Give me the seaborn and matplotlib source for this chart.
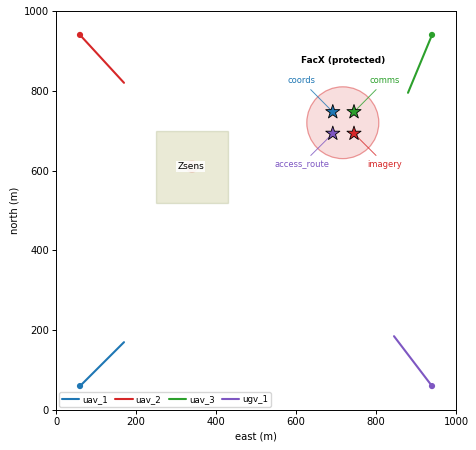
import pandas as pd
import seaborn as sns
import matplotlib
matplotlib.use('Agg')
import matplotlib.pyplot as plt
from matplotlib.patches import Circle, Rectangle

# tracks: start and end point of each vehicle
vehicles = ['uav_1', 'uav_2', 'uav_3', 'ugv_1']
colors = ['#1f77b4', '#d62728', '#2ca02c', '#7e57c2']
start_east = [60, 60, 940, 940]
start_north = [60, 940, 940, 60]
end_east = [170, 170, 880, 845]
end_north = [170, 820, 795, 185]

# facility and sensor zone
fac_east, fac_north, fac_radius = 717, 720, 90
zone_east, zone_north, zone_width, zone_height = 250, 520, 180, 180
zone_center = (340, 610)

# assets inside the facility
assets = ['coords', 'comms', 'access_route', 'imagery']
asset_east = [692, 745, 692, 745]
asset_north = [747, 747, 693, 693]
asset_colors = ['#1f77b4', '#2ca02c', '#7e57c2', '#d62728']
label_east = [615, 822, 615, 822]
label_north = [825, 825, 616, 616]

palette = dict(zip(vehicles, colors))

df = pd.DataFrame({
    'vehicle': vehicles * 2,
    'east': start_east + end_east,
    'north': start_north + end_north,
})
df_start = pd.DataFrame({'vehicle': vehicles, 'east': start_east, 'north': start_north})
df_assets = pd.DataFrame({'asset': assets, 'east': asset_east, 'north': asset_north})

sns.set_theme(style='ticks')
plt.rcParams['font.family'] = ['DejaVu Sans']
plt.rcParams['text.color'] = 'black'
plt.rcParams['axes.labelcolor'] = 'black'
plt.rcParams['xtick.color'] = 'black'
plt.rcParams['ytick.color'] = 'black'

fig = plt.figure(figsize=(4.76, 4.5), dpi=100)
ax = fig.add_axes([56 / 476, 1 - 410 / 450, 400 / 476, 399 / 450])

ax.add_patch(Rectangle((zone_east, zone_north), zone_width, zone_height,
                       facecolor='#8c8c20', edgecolor='#6b7a30', alpha=0.18, lw=1))
ax.add_patch(Circle(zone_center, 14, facecolor='#d62728', edgecolor='#d62728', alpha=0.15))
ax.text(zone_center[0] - 3, zone_center[1], 'Zsens', ha='center', va='center', fontsize=6.5,
        bbox=dict(facecolor='white', edgecolor='none', alpha=0.85, pad=0.8))

ax.add_patch(Circle((fac_east, fac_north), fac_radius, facecolor='#d62728',
                    edgecolor='none', alpha=0.15))
ax.add_patch(Circle((fac_east, fac_north), fac_radius, fill=False,
                    edgecolor='#d62728', alpha=0.45, lw=0.9))
ax.text(fac_east, 877, 'FacX (protected)', ha='center', va='center', fontsize=6.4, fontweight='bold')

sns.lineplot(data=df, x='east', y='north', hue='vehicle', palette=palette,
             sort=False, estimator=None, lw=1.5, ax=ax)
sns.scatterplot(data=df_start, x='east', y='north', hue='vehicle', palette=palette,
                s=20, edgecolor='none', legend=False, ax=ax)

for name, e, n, le, ln, c in zip(assets, asset_east, asset_north, label_east, label_north, asset_colors):
    ax.annotate(name, xy=(e, n), xytext=(le, ln), color=c, fontsize=6,
                ha='center', va='center',
                arrowprops=dict(arrowstyle='-', color=c, lw=0.7, alpha=0.8, shrinkA=1, shrinkB=0))

sns.scatterplot(data=df_assets, x='east', y='north', hue='asset',
                palette=dict(zip(assets, asset_colors)), marker='*', s=115,
                edgecolor='black', linewidth=0.6, legend=False, zorder=5, ax=ax)

ax.set_xlim(0, 1000)
ax.set_ylim(0, 1000)
ax.set_xlabel('east (m)', fontsize=7.2, labelpad=3)
ax.set_ylabel('north (m)', fontsize=7.2, labelpad=3)
ax.tick_params(labelsize=7.2, length=2.6, width=0.7, pad=2.5)
for s in ax.spines.values():
    s.set_linewidth(0.7)
    s.set_color('black')

ax.legend(loc='lower left', ncol=4, fontsize=6.2, frameon=True, title=None,
          borderpad=0.3, handlelength=2.0, columnspacing=0.85, handletextpad=0.35,
          borderaxespad=0.4, fancybox=True)

fig.savefig('out.png', dpi=100)
